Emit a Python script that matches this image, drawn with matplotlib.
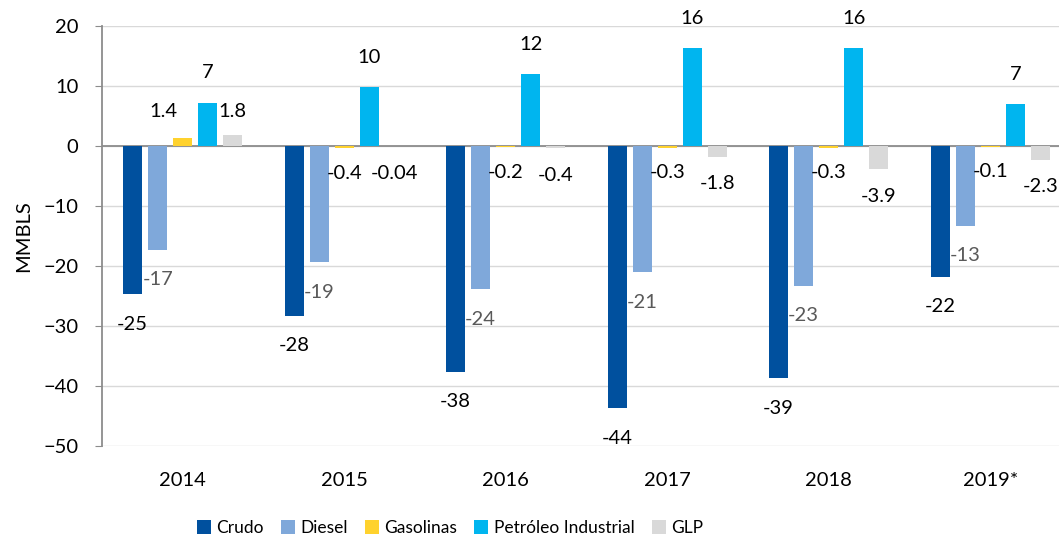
import numpy as np
import matplotlib
matplotlib.use('Agg')
from matplotlib import pyplot as plt

plt.rcParams['font.family'] = ['Lato', 'DejaVu Sans']

years = ['2014', '2015', '2016', '2017', '2018', '2019*']
crudo = [-24.7, -28.3, -37.6, -43.7, -38.7, -21.8]
diesel = [-17.3, -19.4, -23.9, -21.0, -23.3, -13.3]
gasolinas = [1.4, -0.4, -0.2, -0.3, -0.3, -0.1]
petroleo = [7.2, 9.8, 12.0, 16.3, 16.3, 7.0]
glp = [1.8, -0.04, -0.4, -1.8, -3.9, -2.3]

series = [('Crudo', crudo, '#00509E'),
          ('Diesel', diesel, '#7FA8DA'),
          ('Gasolinas', gasolinas, '#FFD22E'),
          ('Petróleo Industrial', petroleo, '#00B5EF'),
          ('GLP', glp, '#D9D9D9')]

fig = plt.figure(figsize=(10.59, 5.41), dpi=100)
ax = fig.add_axes([102/1059, 1-446/541, 969/1059, 420/541])

x = np.arange(len(years))
w = 0.118
pitch = 0.155
fs = 14.5

for i, (name, vals, col) in enumerate(series):
    xs = x + (i - 2) * pitch
    ax.bar(xs, vals, width=w, color=col, label=name, zorder=3)
    for xi, v in zip(xs, vals):
        if name in ('Crudo', 'Diesel'):
            txt = f'{v:.0f}'
            off = (0, -21.6)
        elif name == 'Petróleo Industrial':
            txt = f'{v:.0f}'
            off = (0, 21.6)
        elif name == 'Gasolinas':
            txt = f'{v:g}'
            off = (-13.7, 18.6) if v > 0 else (0, -18)
        else:
            txt = f'{v:g}'
            off = (0, 16.8) if v > 0 else (0, -19.4)
        c = '#595959' if name == 'Diesel' else 'black'
        ax.annotate(txt, (xi, v), xytext=off, textcoords='offset points',
                    ha='center', va='center', fontsize=fs, color=c, zorder=4)

ax.set_xlim(-0.5, len(years) - 0.5)
ax.set_ylim(-50, 20)
ax.set_yticks(range(-50, 21, 10))
ax.set_xticks(x)
ax.set_xticklabels(years)
ax.tick_params(axis='x', length=0, pad=19, labelsize=fs)
ax.tick_params(axis='y', length=5, color='#8c8c8c', labelsize=fs, pad=12)
ax.grid(axis='y', color='#d9d9d9', linewidth=1, zorder=0)
ax.axhline(0, color='#8c8c8c', linewidth=1.3, zorder=2)
for s in ['top', 'right', 'bottom']:
    ax.spines[s].set_visible(False)
ax.spines['left'].set_color('#8c8c8c')
ax.spines['left'].set_linewidth(1.3)
ax.set_ylabel('MMBLS', fontsize=fs, labelpad=8)

fig.legend(loc='center', bbox_to_anchor=(450/1059, 1-528/541), ncol=5, frameon=False,
           fontsize=12.5, handlelength=0.8, handleheight=0.8, handletextpad=0.3,
           columnspacing=1.0)

fig.savefig('out.png', dpi=100)
